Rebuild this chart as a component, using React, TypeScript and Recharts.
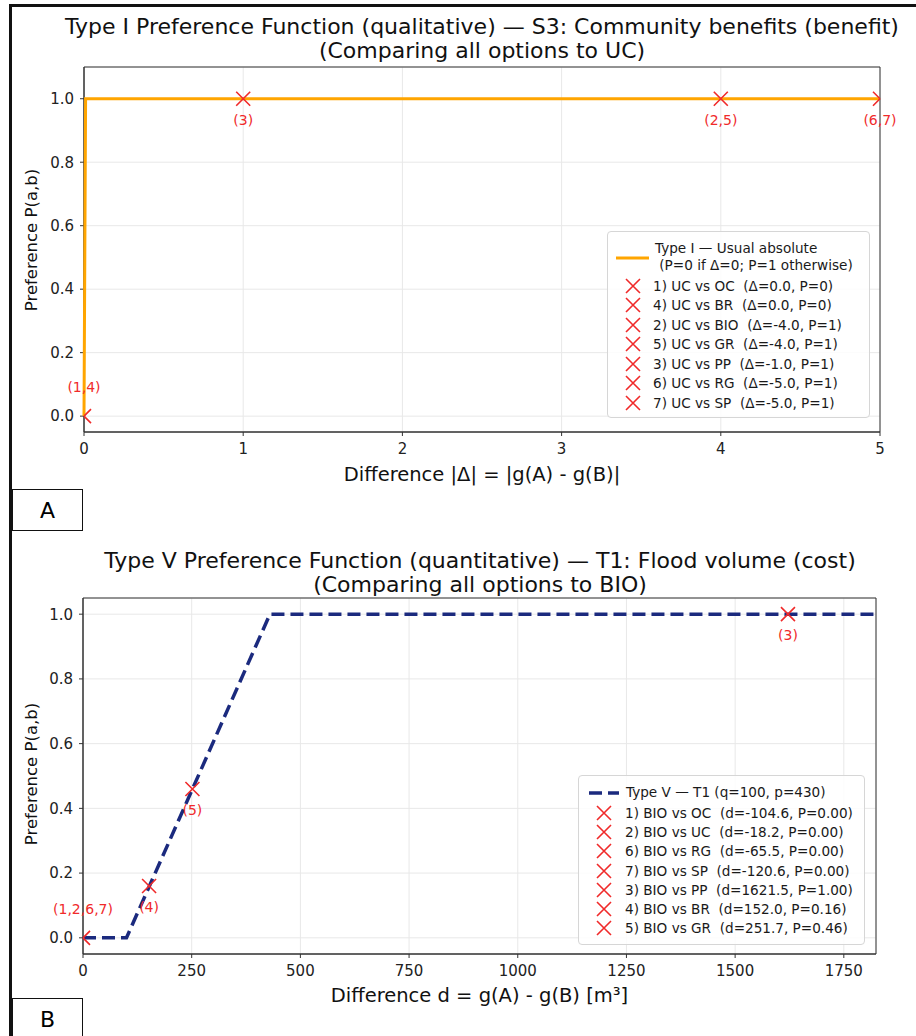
import React from "react";
import { CartesianGrid, Label, ReferenceArea, Scatter, ScatterChart, XAxis, YAxis } from "recharts";

const FONT = "'DejaVu Sans', 'Liberation Sans', sans-serif";
const RED = "#f02a2a";
const ORANGE = "#ffa500";
const NAVY = "#1b2a7e";
const AXIS = "#333";

// S3: community benefits (benefit), all options against UC
const s3Curve = [
  { d: 0, p: 0 },
  { d: 0.01, p: 1 },
  { d: 5, p: 1 },
];
const s3Points = [
  { d: 0, p: 0, label: "(1,4)" },
  { d: 1, p: 1, label: "(3)" },
  { d: 4, p: 1, label: "(2,5)" },
  { d: 5, p: 1, label: "(6,7)" },
];
const s3XTicks = [0, 1, 2, 3, 4, 5];
const s3XDomain: [number, number] = [0, 5];
const s3YDomain: [number, number] = [-0.05, 1.1];
const s3LegendHead = ["Type I — Usual absolute", " (P=0 if Δ=0; P=1 otherwise)"];
const s3Legend = [
  "1) UC vs OC  (Δ=0.0, P=0)",
  "4) UC vs BR  (Δ=0.0, P=0)",
  "2) UC vs BIO  (Δ=-4.0, P=1)",
  "5) UC vs GR  (Δ=-4.0, P=1)",
  "3) UC vs PP  (Δ=-1.0, P=1)",
  "6) UC vs RG  (Δ=-5.0, P=1)",
  "7) UC vs SP  (Δ=-5.0, P=1)",
];

// T1: flood volume (cost), all options against BIO
const t1Curve = [
  { d: 0, p: 0 },
  { d: 100, p: 0 },
  { d: 430, p: 1 },
  { d: 1824, p: 1 },
];
const t1Points = [
  { d: 0, p: 0, label: "(1,2,6,7)" },
  { d: 152, p: 0.16, label: "(4)" },
  { d: 251.7, p: 0.46, label: "(5)" },
  { d: 1621.5, p: 1, label: "(3)" },
];
const t1XTicks = [0, 250, 500, 750, 1000, 1250, 1500, 1750];
const t1XDomain: [number, number] = [0, 1824];
const t1YDomain: [number, number] = [-0.05, 1.05];
const t1LegendHead = "Type V — T1 (q=100, p=430)";
const t1Legend = [
  "1) BIO vs OC  (d=-104.6, P=0.00)",
  "2) BIO vs UC  (d=-18.2, P=0.00)",
  "6) BIO vs RG  (d=-65.5, P=0.00)",
  "7) BIO vs SP  (d=-120.6, P=0.00)",
  "3) BIO vs PP  (d=1621.5, P=1.00)",
  "4) BIO vs BR  (d=152.0, P=0.16)",
  "5) BIO vs GR  (d=251.7, P=0.46)",
];

const pTicks = [0, 0.2, 0.4, 0.6, 0.8, 1.0];

const tickStyle = { fontSize: 15, fill: "#222", fontFamily: FONT };

// red "x" marker, cut at the plot edges, with its option label
const crossShape = (xDomain: [number, number]) => (props: any) => {
  const { cx, cy, payload } = props;
  if (cx == null || cy == null) return <g />;
  const r = 7;
  const left = payload.d > xDomain[0];
  const right = payload.d < xDomain[1];
  let path = "";
  if (left) path += `M${cx - r},${cy - r}L${cx},${cy}M${cx - r},${cy + r}L${cx},${cy}`;
  if (right) path += `M${cx},${cy}L${cx + r},${cy - r}M${cx},${cy}L${cx + r},${cy + r}`;
  const ly = payload.p === 0 ? cy - 29 : cy + 21;
  return (
    <g>
      <path d={path} stroke={RED} strokeWidth={1.6} fill="none" />
      <text x={cx} y={ly} textAnchor="middle" dominantBaseline="central" fontSize={14} fontFamily={FONT} fill={RED}>
        {payload.label}
      </text>
    </g>
  );
};

const Cross = () => (
  <svg width={16} height={16} style={{ display: "block" }}>
    <path d="M1,1L15,15M1,15L15,1" stroke={RED} strokeWidth={1.6} />
  </svg>
);

function PanelTag({ top, height, text }: { top: number; height: number; text: string }) {
  return (
    <div
      style={{
        position: "absolute",
        left: 12,
        top,
        width: 71,
        height,
        boxSizing: "border-box",
        border: "1.5px solid #111",
        background: "#fff",
        fontFamily: FONT,
        fontSize: 22,
        display: "flex",
        alignItems: "flex-start",
        justifyContent: "center",
        paddingTop: 8,
      }}
    >
      {text}
    </div>
  );
}

function Title({ x, top, lines }: { x: number; top: number; lines: string[] }) {
  return (
    <div
      style={{
        position: "absolute",
        left: x,
        top,
        transform: "translateX(-50%)",
        whiteSpace: "nowrap",
        textAlign: "center",
        fontFamily: FONT,
        fontSize: 22,
        lineHeight: "23.5px",
        color: "#111",
      }}
    >
      {lines.map((l) => (
        <div key={l}>{l}</div>
      ))}
    </div>
  );
}

function YTitle({ cy, text }: { cy: number; text: string }) {
  return (
    <div
      style={{
        position: "absolute",
        left: 31,
        top: cy,
        transform: "translate(-50%, -50%) rotate(-90deg)",
        whiteSpace: "nowrap",
        fontFamily: FONT,
        fontSize: 16.5,
        color: "#111",
      }}
    >
      {text}
    </div>
  );
}

export default function App() {
  return (
    <div
      style={{
        position: "absolute",
        left: 0,
        top: 0,
        width: 916,
        height: 1036,
        background: "#fff",
        overflow: "hidden",
        fontFamily: FONT,
      }}
    >
      <div style={{ position: "absolute", left: 9, top: 4, width: 3, height: 1036, background: "#111" }} />
      <div style={{ position: "absolute", left: 9, top: 4, width: 910, height: 3, background: "#111" }} />

      {/* panel A */}
      <Title x={482} top={15} lines={["Type I Preference Function (qualitative) — S3: Community benefits (benefit)", "(Comparing all options to UC)"]} />
      <div style={{ position: "absolute", left: 0, top: 0 }}>
        <ScatterChart width={916} height={500} margin={{ top: 67, right: 36, bottom: 38, left: 20 }}>
          <CartesianGrid stroke="#e8e8e8" />
          <XAxis
            type="number"
            dataKey="d"
            domain={s3XDomain}
            ticks={s3XTicks}
            height={30}
            tick={tickStyle}
            tickSize={4}
            tickMargin={7}
            stroke={AXIS}
            interval={0}
          >
            <Label value="Difference |Δ| = |g(A) - g(B)|" position="bottom" offset={5} fontSize={19.5} style={{ fontSize: 19.5, fill: "#111", fontFamily: FONT }} />
          </XAxis>
          <YAxis
            type="number"
            dataKey="p"
            domain={s3YDomain}
            ticks={pTicks}
            width={64}
            tick={tickStyle}
            tickSize={4}
            tickMargin={6}
            tickFormatter={(v: number) => v.toFixed(1)}
            stroke={AXIS}
            interval={0}
          />
          <ReferenceArea x1={s3XDomain[0]} x2={s3XDomain[1]} y1={s3YDomain[0]} y2={s3YDomain[1]} fill="none" stroke={AXIS} strokeWidth={1} />
          <Scatter data={s3Curve} line={{ stroke: ORANGE, strokeWidth: 3 }} shape={() => <g />} isAnimationActive={false} />
          <Scatter data={s3Points} shape={crossShape(s3XDomain)} isAnimationActive={false} />
        </ScatterChart>
      </div>
      <YTitle cy={240} text="Preference P(a,b)" />
      <div
        style={{
          position: "absolute",
          left: 607,
          top: 231,
          width: 263,
          height: 187,
          boxSizing: "border-box",
          border: "1px solid #d6d6d6",
          borderRadius: 4,
          background: "rgba(255,255,255,0.85)",
          fontSize: 13.6,
          color: "#1a1a1a",
        }}
      >
        <svg style={{ position: "absolute", left: 8, top: 23 }} width={33} height={6}>
          <line x1={0} y1={3} x2={33} y2={3} stroke={ORANGE} strokeWidth={3} />
        </svg>
        <div style={{ position: "absolute", left: 47, top: 8, lineHeight: "17px", whiteSpace: "pre" }}>
          {s3LegendHead.map((l) => (
            <div key={l}>{l}</div>
          ))}
        </div>
        {s3Legend.map((t, i) => (
          <div key={t} style={{ position: "absolute", left: 17, top: 44 + i * 19.5, height: 19.5, display: "flex", alignItems: "center", whiteSpace: "pre" }}>
            <Cross />
            <span style={{ marginLeft: 12 }}>{t}</span>
          </div>
        ))}
      </div>
      <PanelTag top={489} height={42} text="A" />

      {/* panel B */}
      <Title x={480} top={549} lines={["Type V Preference Function (quantitative) — T1: Flood volume (cost)", "(Comparing all options to BIO)"]} />
      <div style={{ position: "absolute", left: 0, top: 520 }}>
        <ScatterChart width={916} height={500} margin={{ top: 78, right: 40, bottom: 36, left: 19 }}>
          <CartesianGrid stroke="#e8e8e8" />
          <XAxis
            type="number"
            dataKey="d"
            domain={t1XDomain}
            ticks={t1XTicks}
            height={30}
            tick={tickStyle}
            tickSize={4}
            tickMargin={7}
            stroke={AXIS}
            interval={0}
          >
            <Label value="Difference d = g(A) - g(B) [m³]" position="bottom" offset={4} fontSize={19.5} style={{ fontSize: 19.5, fill: "#111", fontFamily: FONT }} />
          </XAxis>
          <YAxis
            type="number"
            dataKey="p"
            domain={t1YDomain}
            ticks={pTicks}
            width={64}
            tick={tickStyle}
            tickSize={4}
            tickMargin={6}
            tickFormatter={(v: number) => v.toFixed(1)}
            stroke={AXIS}
            interval={0}
          />
          <ReferenceArea x1={t1XDomain[0]} x2={t1XDomain[1]} y1={t1YDomain[0]} y2={t1YDomain[1]} fill="none" stroke={AXIS} strokeWidth={1} />
          <Scatter data={t1Curve} line={{ stroke: NAVY, strokeWidth: 3.5, strokeDasharray: "13 6" }} shape={() => <g />} isAnimationActive={false} />
          <Scatter data={t1Points} shape={crossShape(t1XDomain)} isAnimationActive={false} />
        </ScatterChart>
      </div>
      <YTitle cy={774} text="Preference P(a,b)" />
      <div
        style={{
          position: "absolute",
          left: 578,
          top: 775,
          width: 287,
          height: 170,
          boxSizing: "border-box",
          border: "1px solid #d6d6d6",
          borderRadius: 4,
          background: "rgba(255,255,255,0.85)",
          fontSize: 13.6,
          color: "#1a1a1a",
        }}
      >
        <svg style={{ position: "absolute", left: 10, top: 14 }} width={30} height={6}>
          <line x1={0} y1={3} x2={30} y2={3} stroke={NAVY} strokeWidth={3.5} strokeDasharray="13 6" />
        </svg>
        <div style={{ position: "absolute", left: 47, top: 8, lineHeight: "17px", whiteSpace: "pre" }}>{t1LegendHead}</div>
        {t1Legend.map((t, i) => (
          <div key={t} style={{ position: "absolute", left: 17, top: 27.4 + i * 19.2, height: 19.2, display: "flex", alignItems: "center", whiteSpace: "pre" }}>
            <Cross />
            <span style={{ marginLeft: 13 }}>{t}</span>
          </div>
        ))}
      </div>
      <PanelTag top={998} height={50} text="B" />
    </div>
  );
}
